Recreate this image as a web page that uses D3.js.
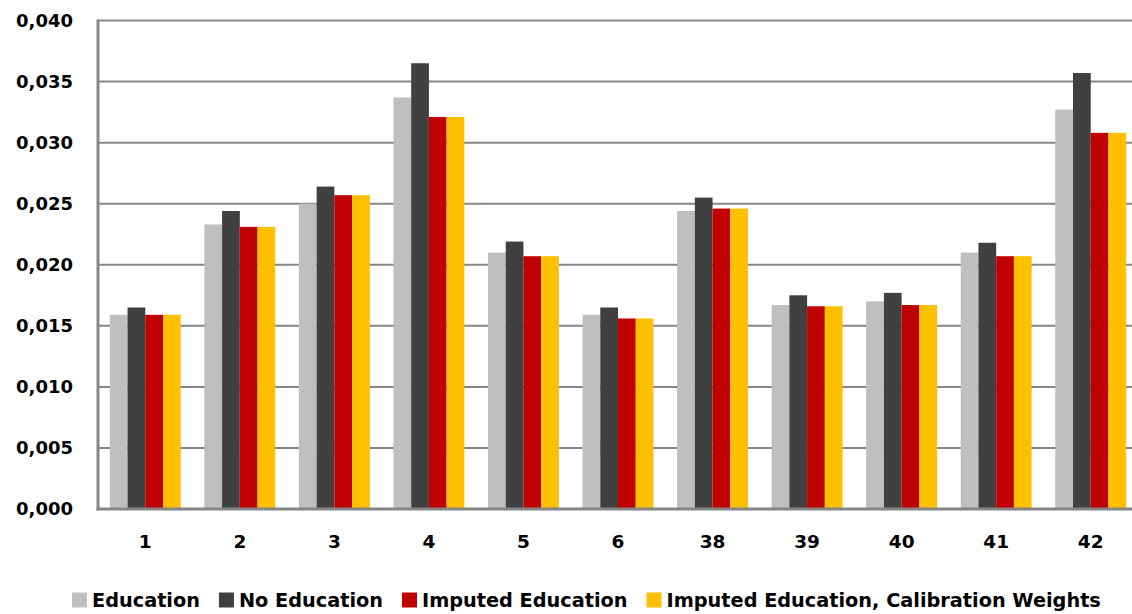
<!DOCTYPE html>
<html>
<head>
<meta charset="utf-8">
<script src="https://cdn.jsdelivr.net/npm/d3@7"></script>
<style>
  body { margin: 0; background: #fff; }
  svg { display: block; }
  text { font-family: "DejaVu Sans", sans-serif; font-weight: bold; fill: #000; }
</style>
</head>
<body>
<div id="chart"></div>
<script>
var categories = ['1', '2', '3', '4', '5', '6', '38', '39', '40', '41', '42'];
var seriesNames = ['Education', 'No Education', 'Imputed Education', 'Imputed Education, Calibration Weights'];
var seriesColors = ['#bfbfbf', '#404040', '#c00000', '#ffc000'];

var education        = [0.0159, 0.0233, 0.0250, 0.0337, 0.0210, 0.0159, 0.0244, 0.0167, 0.0170, 0.0210, 0.0327];
var noEducation      = [0.0165, 0.0244, 0.0264, 0.0365, 0.0219, 0.0165, 0.0255, 0.0175, 0.0177, 0.0218, 0.0357];
var imputed          = [0.0159, 0.0231, 0.0257, 0.0321, 0.0207, 0.0156, 0.0246, 0.0166, 0.0167, 0.0207, 0.0308];
var imputedCalibrated = [0.0159, 0.0231, 0.0257, 0.0321, 0.0207, 0.0156, 0.0246, 0.0166, 0.0167, 0.0207, 0.0308];

var yTicks = [0, 0.005, 0.010, 0.015, 0.020, 0.025, 0.030, 0.035, 0.040];

var allSeries = [education, noEducation, imputed, imputedCalibrated];

var width = 1132, height = 614;
var plotLeft = 98, plotRight = 1138, plotTop = 20.5, plotBottom = 509;

var svg = d3.select('#chart').append('svg')
   .attr('width', width)
   .attr('height', height);

var x0 = d3.scaleBand()
   .domain(categories)
   .range([plotLeft, plotRight])
   .paddingInner(0.25)
   .paddingOuter(0.125);

var x1 = d3.scaleBand()
   .domain(d3.range(seriesNames.length))
   .range([0, x0.bandwidth()]);

var y = d3.scaleLinear()
   .domain([0, 0.040])
   .range([plotBottom, plotTop]);

var fmt = function(v) { return d3.format('.3f')(v).replace('.', ','); };

// gridlines
svg.append('g')
   .selectAll('line')
   .data(yTicks.slice(1))
   .enter().append('line')
   .attr('x1', plotLeft)
   .attr('x2', width)
   .attr('y1', function(d) { return y(d); })
   .attr('y2', function(d) { return y(d); })
   .attr('stroke', '#868686')
   .attr('stroke-width', 2);

// y axis labels
var yAxis = svg.append('g')
   .attr('transform', 'translate(' + plotLeft + ',0)')
   .call(d3.axisLeft(y).tickValues(yTicks).tickFormat(fmt).tickSize(0).tickPadding(25));
yAxis.select('.domain').remove();
yAxis.selectAll('text')
   .attr('font-size', 18)
   .attr('font-family', '"DejaVu Sans", sans-serif')
   .attr('font-weight', 'bold')
   .attr('fill', '#000');

// bars
var groups = svg.append('g')
   .selectAll('g')
   .data(categories)
   .enter().append('g')
   .attr('transform', function(d) { return 'translate(' + x0(d) + ',0)'; });

groups.selectAll('rect')
   .data(function(d, i) {
      return allSeries.map(function(s, k) { return { k: k, v: s[i] }; });
   })
   .enter().append('rect')
   .attr('x', function(d) { return x1(d.k); })
   .attr('width', x1.bandwidth())
   .attr('y', function(d) { return y(d.v); })
   .attr('height', function(d) { return y(0) - y(d.v); })
   .attr('fill', function(d) { return seriesColors[d.k]; });

// axis lines
svg.append('line')
   .attr('x1', plotLeft).attr('x2', plotLeft)
   .attr('y1', y(0.040) - 1).attr('y2', y(0) + 1.5)
   .attr('stroke', '#868686').attr('stroke-width', 3);
svg.append('line')
   .attr('x1', plotLeft - 1.5).attr('x2', width)
   .attr('y1', y(0)).attr('y2', y(0))
   .attr('stroke', '#868686').attr('stroke-width', 3);

// x axis labels
var xAxis = svg.append('g')
   .attr('transform', 'translate(0,' + plotBottom + ')')
   .call(d3.axisBottom(x0).tickSize(0).tickPadding(26));
xAxis.select('.domain').remove();
xAxis.selectAll('text')
   .attr('font-size', 18.5)
   .attr('font-family', '"DejaVu Sans", sans-serif')
   .attr('font-weight', 'bold')
   .attr('fill', '#000');

// legend
var legend = svg.append('g').attr('transform', 'translate(72,600)');
var lx = 0;
seriesNames.forEach(function(name, k) {
   legend.append('rect')
      .attr('x', lx).attr('y', -7.5)
      .attr('width', 15).attr('height', 15)
      .attr('fill', seriesColors[k]);
   var t = legend.append('text')
      .attr('x', lx + 20)
      .attr('y', 0)
      .attr('dy', '0.35em')
      .attr('font-size', 19.3)
      .text(name);
   lx += 20 + t.node().getComputedTextLength() + 19;
});
</script>
</body>
</html>
